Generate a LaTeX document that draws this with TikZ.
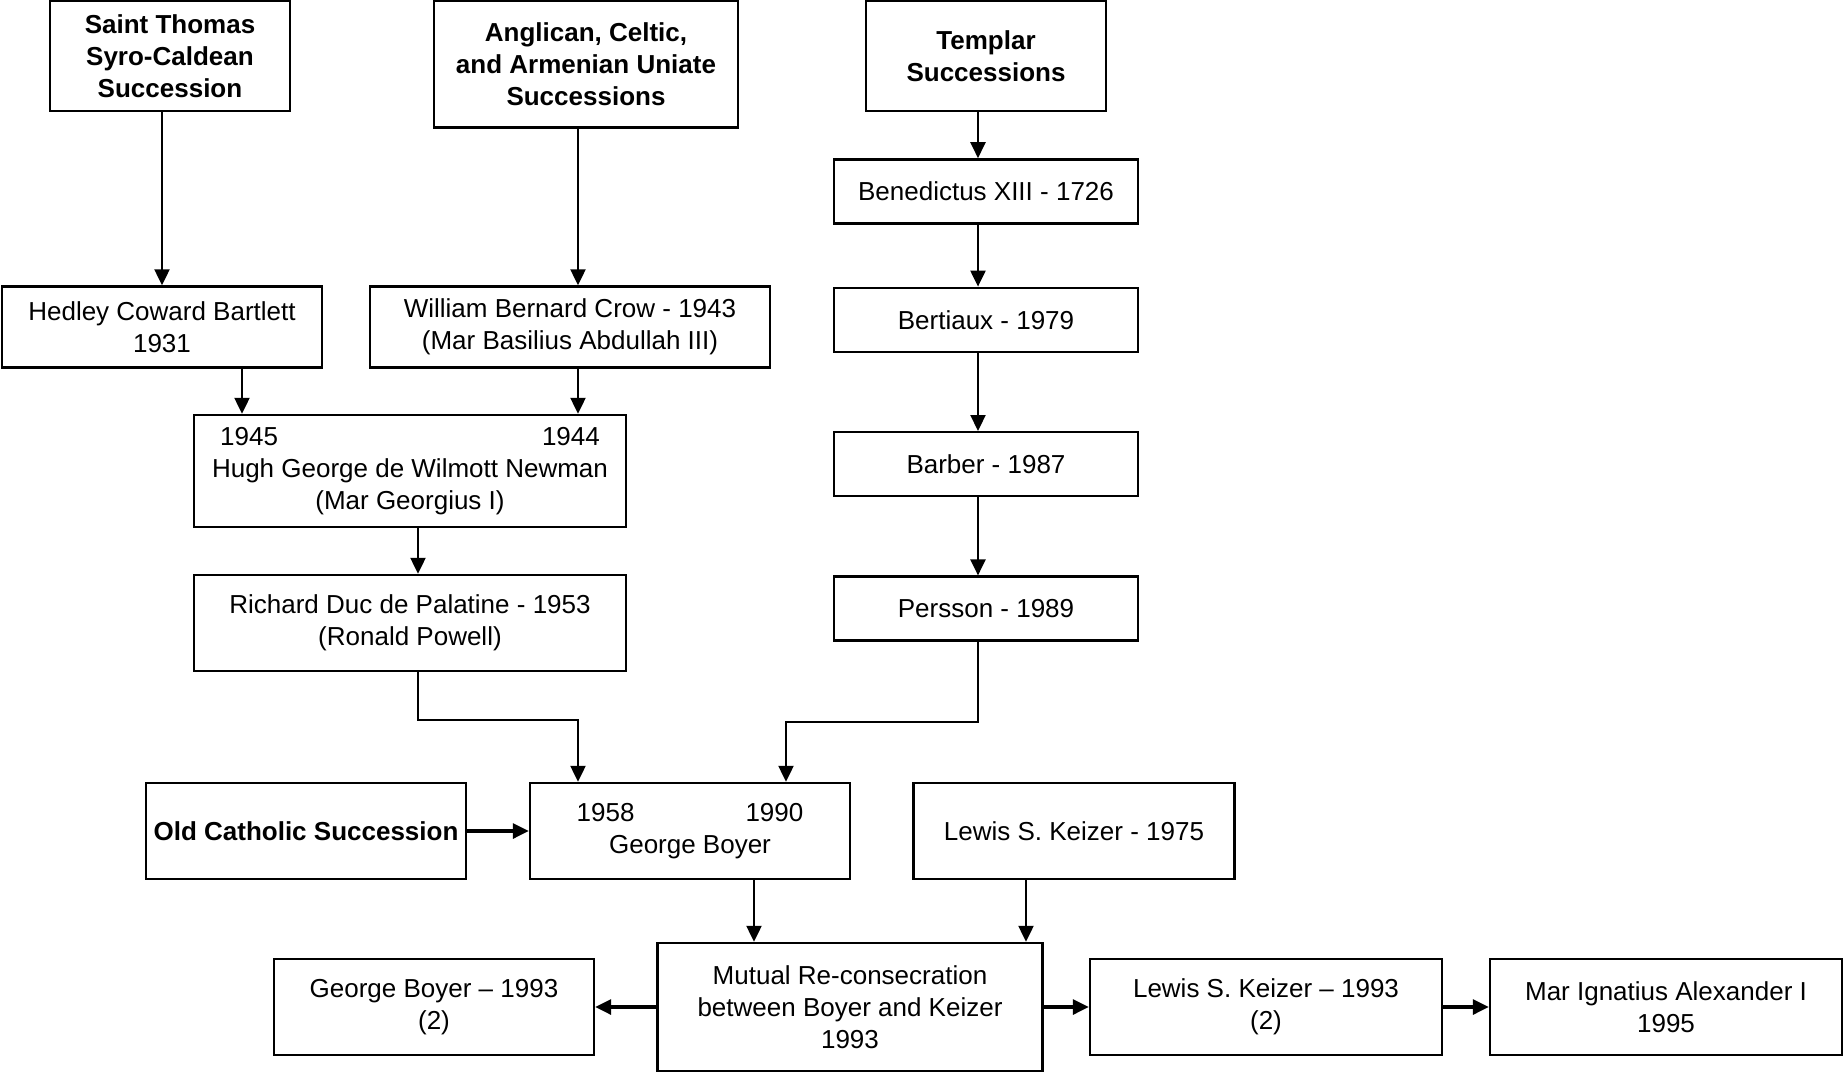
\documentclass[tikz,border=0pt]{standalone}
\usepackage{fontspec}
\setmainfont{Liberation Sans}
\usepackage{tikz}
\usetikzlibrary{positioning,arrows.meta}

\begin{document}
\begin{tikzpicture}[
x=0.5pt, y=-0.5pt,
>={Triangle[length=8pt,width=7.5pt]},
namebox/.style={rectangle, draw=black, line width=1.2pt, inner sep=2pt, align=center, font=\fontsize{13}{16}\selectfont},
titlebox/.style={namebox, font=\fontsize{13}{16}\selectfont\bfseries},
]
\useasboundingbox (0,0) rectangle (1844,1073);

%Nodes
\node[titlebox, minimum width=120pt, minimum height=55pt]   (StThomas) at (170,56)  {Saint Thomas\\Syro-Caldean\\Succession};
\node[titlebox, minimum width=152pt, minimum height=63.5pt] (Anglican) at (586,64)  {Anglican, Celtic,\\and Armenian Uniate\\Successions};
\node[titlebox, minimum width=120pt, minimum height=55pt]   (Templar)  at (986,56)  {Templar\\Successions};

\node[namebox, minimum width=152pt, minimum height=32pt] (Benedictus) [below=23pt of Templar]    {Benedictus XIII - 1726};
\node[namebox, minimum width=152pt, minimum height=32pt] (Bertiaux)   [below=31pt of Benedictus] {Bertiaux - 1979};
\node[namebox, minimum width=152pt, minimum height=32pt] (Barber)     [below=39pt of Bertiaux]   {Barber - 1987};
\node[namebox, minimum width=152pt, minimum height=32pt] (Persson)    [below=39pt of Barber]     {Persson - 1989};

\node[namebox, minimum width=160pt, minimum height=40.5pt] (Hedley)  at (162,327) {Hedley Coward Bartlett\\1931};
\node[namebox, minimum width=200pt, minimum height=40.5pt] (William) at (570,327) {William Bernard Crow - 1943\\(Mar Basilius Abdullah III)};
\node[namebox, minimum width=216pt, minimum height=56pt]   (Hugh)    at (410,471) {1945\hspace{132pt}1944\\Hugh George de Wilmott Newman\\(Mar Georgius I)};
\node[namebox, minimum width=216pt, minimum height=48pt]   (Richard) at (410,623) {Richard Duc de Palatine - 1953\\(Ronald Powell)};

\node[titlebox, minimum width=160pt, minimum height=48pt]  (OldCath) at (306,831)  {Old Catholic Succession};
\node[namebox, minimum width=160pt, minimum height=48pt]   (Boyer)   at (690,831)  {1958\hspace{55.5pt}1990\\George Boyer};
\node[namebox, minimum width=160.5pt, minimum height=48pt] (Lewis75) at (1074,831) {Lewis S. Keizer - 1975};

\node[namebox, minimum width=192.5pt, minimum height=64pt] (Mutual)  at (850,1007)  {Mutual Re-consecration\\between Boyer and Keizer\\1993};
\node[namebox, minimum width=160pt, minimum height=48pt]   (Boyer93) at (434,1007)  {George Boyer – 1993\\(2)};
\node[namebox, minimum width=176pt, minimum height=48pt]   (Lewis93) at (1266,1007) {Lewis S. Keizer – 1993\\(2)};
\node[namebox, minimum width=176pt, minimum height=48pt]   (MarIgn)  at (1666,1007) {Mar Ignatius Alexander I\\1995};

%Lines
\draw[line width=1.1pt,->] (Hedley.north |- StThomas.south) -- (Hedley.north);
\draw[line width=1.1pt,->] ([xshift=-4pt]Anglican.south) -- ([xshift=4pt]William.north);
\draw[line width=1.1pt,->] ([xshift=-4pt]Templar.south) -- ([xshift=-4pt]Benedictus.north);
\draw[line width=1.1pt,->] ([xshift=-4pt]Benedictus.south) -- ([xshift=-4pt]Bertiaux.north);
\draw[line width=1.1pt,->] ([xshift=-4pt]Bertiaux.south) -- ([xshift=-4pt]Barber.north);
\draw[line width=1.1pt,->] ([xshift=-4pt]Barber.south) -- ([xshift=-4pt]Persson.north);

\draw[line width=1.1pt,->] ([xshift=40pt]Hedley.south) -- ([xshift=40pt]Hedley.south |- Hugh.north);
\draw[line width=1.1pt,->] ([xshift=4pt]William.south) -- ([xshift=4pt]William.south |- Hugh.north);
\draw[line width=1.1pt,->] ([xshift=4pt]Hugh.south) -- ([xshift=4pt]Richard.north);

\draw[line width=1.1pt,->] ([xshift=4pt]Richard.south) -- ++(0,48) -| ([xshift=-56pt]Boyer.north);
\draw[line width=1.1pt,->] ([xshift=-4pt]Persson.south) -- ++(0,80) -| ([xshift=48pt]Boyer.north);
\draw[line width=1.6pt,->] (OldCath) -- (Boyer);

\draw[line width=1.1pt,->] ([xshift=32pt]Boyer.south) -- ([xshift=32pt]Boyer.south |- Mutual.north);
\draw[line width=1.1pt,->] ([xshift=-24pt]Lewis75.south) -- ([xshift=-24pt]Lewis75.south |- Mutual.north);

\draw[line width=1.6pt,->] (Mutual) -- (Boyer93);
\draw[line width=1.6pt,->] (Mutual) -- (Lewis93);
\draw[line width=1.6pt,->] (Lewis93) -- (MarIgn);

\end{tikzpicture}
\end{document}
